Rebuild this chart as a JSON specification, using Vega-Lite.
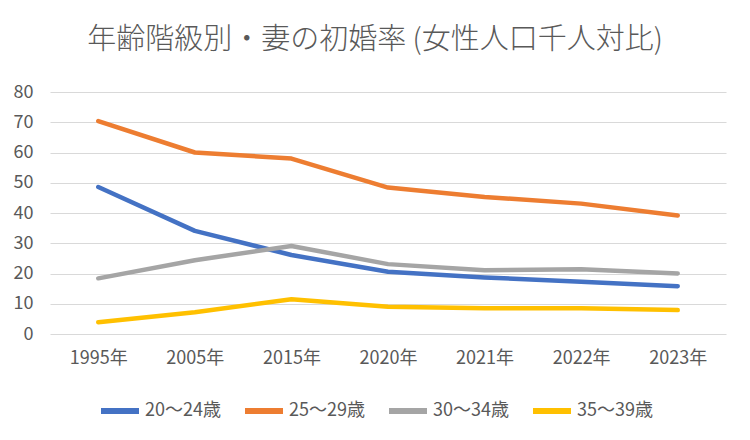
{
  "$schema": "https://vega.github.io/schema/vega-lite/v6.json",
  "autosize": "none",
  "width": 676,
  "height": 242,
  "padding": {"left": 50, "top": 92, "right": 24, "bottom": 106},
  "background": "white",
  "title": {
    "text": "年齢階級別・妻の初婚率 (女性人口千人対比)",
    "font": "Noto Sans CJK JP",
    "fontSize": 29,
    "fontWeight": 300,
    "color": "#595959",
    "anchor": "middle",
    "dx": -13,
    "offset": 28
  },
  "config": {
    "view": {"stroke": null},
    "font": "Noto Sans CJK JP"
  },
  "data": {
    "values": [
      {"year": "1995年", "group": "20～24歳", "rate": 48.6},
      {"year": "2005年", "group": "20～24歳", "rate": 34.1},
      {"year": "2015年", "group": "20～24歳", "rate": 26.1},
      {"year": "2020年", "group": "20～24歳", "rate": 20.6},
      {"year": "2021年", "group": "20～24歳", "rate": 18.7},
      {"year": "2022年", "group": "20～24歳", "rate": 17.3},
      {"year": "2023年", "group": "20～24歳", "rate": 15.8},
      {"year": "1995年", "group": "25～29歳", "rate": 70.4},
      {"year": "2005年", "group": "25～29歳", "rate": 60.0},
      {"year": "2015年", "group": "25～29歳", "rate": 58.0},
      {"year": "2020年", "group": "25～29歳", "rate": 48.4},
      {"year": "2021年", "group": "25～29歳", "rate": 45.3},
      {"year": "2022年", "group": "25～29歳", "rate": 43.1},
      {"year": "2023年", "group": "25～29歳", "rate": 39.2},
      {"year": "1995年", "group": "30～34歳", "rate": 18.4},
      {"year": "2005年", "group": "30～34歳", "rate": 24.4},
      {"year": "2015年", "group": "30～34歳", "rate": 29.1},
      {"year": "2020年", "group": "30～34歳", "rate": 23.1},
      {"year": "2021年", "group": "30～34歳", "rate": 21.1},
      {"year": "2022年", "group": "30～34歳", "rate": 21.4},
      {"year": "2023年", "group": "30～34歳", "rate": 20.0},
      {"year": "1995年", "group": "35～39歳", "rate": 3.9},
      {"year": "2005年", "group": "35～39歳", "rate": 7.2},
      {"year": "2015年", "group": "35～39歳", "rate": 11.5},
      {"year": "2020年", "group": "35～39歳", "rate": 9.0},
      {"year": "2021年", "group": "35～39歳", "rate": 8.5},
      {"year": "2022年", "group": "35～39歳", "rate": 8.5},
      {"year": "2023年", "group": "35～39歳", "rate": 7.9}
    ]
  },
  "mark": {"type": "line", "strokeWidth": 4.5, "strokeCap": "round", "strokeJoin": "round"},
  "encoding": {
    "x": {
      "field": "year",
      "type": "nominal",
      "sort": null,
      "scale": {"type": "point", "padding": 0.5},
      "axis": {
        "title": null,
        "labelAngle": 0,
        "domain": false,
        "ticks": false,
        "grid": false,
        "labelFont": "Noto Sans CJK JP",
        "labelFontSize": 18,
        "labelColor": "#595959",
        "labelPadding": 15
      }
    },
    "y": {
      "field": "rate",
      "type": "quantitative",
      "scale": {"domain": [0, 80], "nice": false},
      "axis": {
        "title": null,
        "values": [0, 10, 20, 30, 40, 50, 60, 70, 80],
        "domain": false,
        "ticks": false,
        "grid": true,
        "gridColor": "#D9D9D9",
        "gridWidth": 1,
        "labelFont": "Noto Sans CJK JP",
        "labelFontSize": 18,
        "labelColor": "#595959",
        "labelPadding": 17
      }
    },
    "color": {
      "field": "group",
      "type": "nominal",
      "scale": {
        "domain": ["20～24歳", "25～29歳", "30～34歳", "35～39歳"],
        "range": ["#4472C4", "#ED7D31", "#A5A5A5", "#FFC000"]
      },
      "legend": {
        "title": null,
        "orient": "none",
        "legendX": 48,
        "legendY": 297,
        "direction": "horizontal",
        "symbolType": "stroke",
        "symbolSize": 1444,
        "symbolStrokeWidth": 6,
        "labelFont": "Noto Sans CJK JP",
        "labelFontSize": 18,
        "labelColor": "#595959",
        "labelOffset": 3,
        "columnPadding": 12
      }
    }
  }
}
